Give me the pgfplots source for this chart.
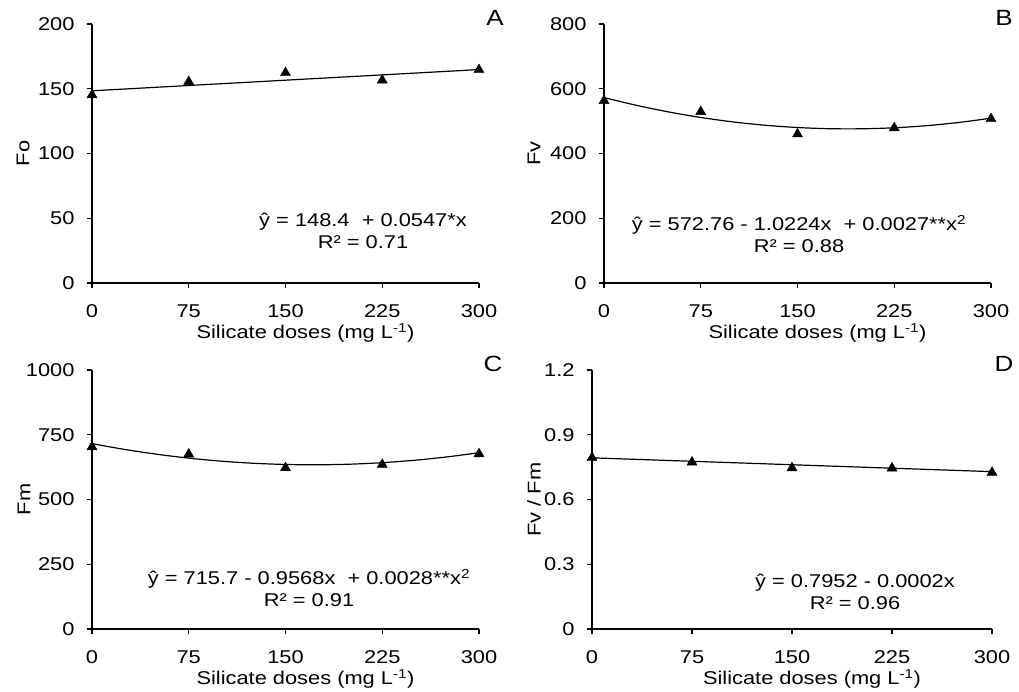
\documentclass[border=0pt]{standalone}
\usepackage{fontspec}
\setmainfont{Liberation Sans}[FakeStretch=1.18]
\usepackage{pgfplots}
\pgfplotsset{compat=1.18}

\pgfplotsset{
  panel/.style={
    scale only axis, width=387pt, height=259pt,
    axis x line=bottom, axis y line=left,
    axis line style={-, line width=1.2pt},
    xmin=0, xmax=300, ymin=0, xtick={0,75,150,225,300},
    tick align=outside, major tick length=5pt,
    tick style={line width=1.2pt, black},
    minor tick num=0,
    clip=false,
    font=\fontsize{18.5}{22}\selectfont,
    /pgf/number format/assume math mode=true,
    /pgf/number format/set thousands separator={},
    xticklabel style={yshift=-13pt},
    yticklabel style={xshift=-9pt},
    xlabel={Silicate doses (mg L\textsuperscript{-1})},
    xlabel style={at={([xshift=20pt,yshift=-50pt]axis description cs:0.5,0)}, anchor=center},
  },
  fit/.style={black, line width=1.2pt, no marks},
  pts/.style={only marks, mark=triangle*, mark size=5.8pt, black},
}

\begin{document}
\begin{tikzpicture}
\useasboundingbox (0,0) rectangle (1019pt,692pt);

% A
\begin{axis}[panel, at={(92pt,409pt)}, anchor=south west,
  ymax=200, ytick={0,50,...,200}, ylabel={Fo},
  ylabel style={at={([xshift=-69pt]axis description cs:0,0.5)}, anchor=center}]
\addplot[fit] coordinates {(0,148.4) (300,164.8)};
\addplot[pts] coordinates {(0,145.2) (75,155.4) (150,162.3) (225,156.6) (300,164.6)};
\end{axis}

% B
\begin{axis}[panel, at={(604pt,409pt)}, anchor=south west,
  ymax=800, ytick={0,200,...,800}, ylabel={Fv},
  ylabel style={at={([xshift=-70pt]axis description cs:0,0.5)}, anchor=center}]
\addplot[fit, smooth] coordinates {
  (0,572.8) (25,548.9) (50,528.4) (75,511.3) (100,497.5) (125,487.2) (150,480.2)
  (175,476.5) (200,476.3) (225,479.4) (250,485.9) (275,495.8) (300,509.0)};
\addplot[pts] coordinates {(0,563) (75,529) (150,460) (225,479) (300,507)};
\end{axis}

% C
\begin{axis}[panel, at={(92pt,63pt)}, anchor=south west,
  ymax=1000, ytick={0,250,...,1000}, ylabel={Fm},
  ylabel style={at={([xshift=-68pt]axis description cs:0,0.5)}, anchor=center}]
\addplot[fit, smooth] coordinates {
  (0,715.7) (25,693.5) (50,674.9) (75,659.7) (100,648.0) (125,639.9) (150,635.2)
  (175,634.0) (200,636.3) (225,642.2) (250,651.5) (275,664.3) (300,680.7)};
\addplot[pts] coordinates {(0,703) (75,675) (150,622) (225,635) (300,676)};
\end{axis}

% D
\begin{axis}[panel, at={(592pt,63pt)}, anchor=south west, width=400pt,
  ymax=1.2, ytick={0,0.3,0.6,0.9,1.2}, ylabel={Fv / Fm},
  yticklabel style={/pgf/number format/.cd, fixed, precision=1},
  ylabel style={at={([xshift=-58pt]axis description cs:0,0.5)}, anchor=center}]
\addplot[fit] coordinates {(0,0.793) (300,0.729)};
\addplot[pts] coordinates {(0,0.794) (75,0.773) (150,0.746) (225,0.745) (300,0.725)};
\end{axis}

\begin{scope}[every node/.style={font=\fontsize{18.5}{22}\selectfont, align=center, inner sep=0pt}]
\node at (363pt,461pt) {ŷ = 148.4 \ + 0.0547*x\\R² = 0.71};
\node at (799pt,458pt) {ŷ = 572.76 - 1.0224x \ + 0.0027**x\textsuperscript{2}\\R² = 0.88};
\node at (309pt,104pt) {ŷ = 715.7 - 0.9568x \ + 0.0028**x\textsuperscript{2}\\R² = 0.91};
\node at (855pt,100pt) {ŷ = 0.7952 - 0.0002x\\R² = 0.96};
\end{scope}
\begin{scope}[every node/.style={font=\fontsize{22}{24}\selectfont, inner sep=0pt}]
\node at (495pt,674pt) {A};
\node at (1004pt,674pt) {B};
\node at (493pt,328pt) {C};
\node at (1004pt,328pt) {D};
\end{scope}
\end{tikzpicture}
\end{document}
